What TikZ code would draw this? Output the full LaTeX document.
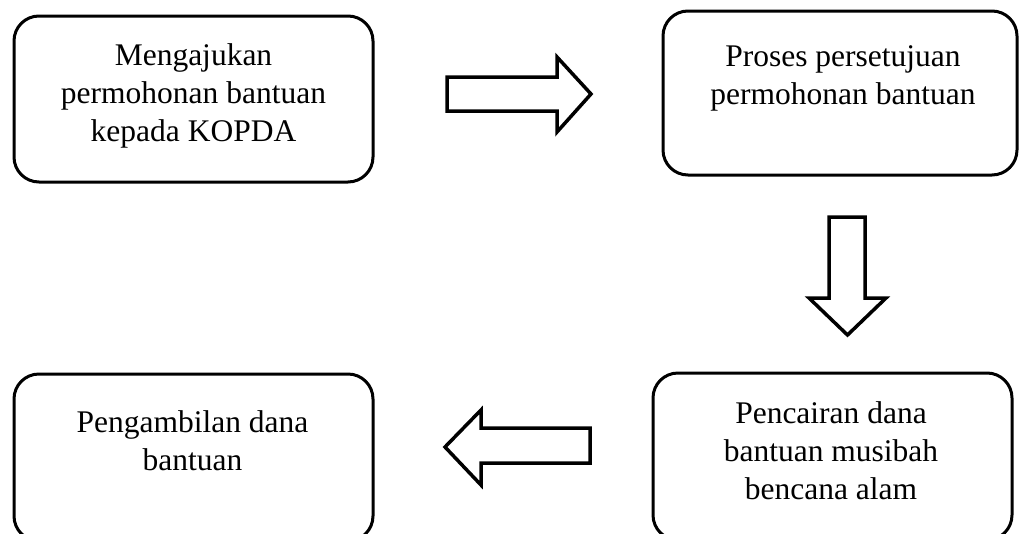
\documentclass[tikz,border=0pt]{standalone}
\usepackage{fontspec}
\setmainfont{Liberation Serif}
\begin{document}
\begin{tikzpicture}[x=1pt,y=-1pt,
  box/.style={draw=black, line width=3pt, rounded corners=25pt, inner sep=0pt, fill=white},
  txt/.style={align=center, inner sep=0pt, anchor=north, font=\fontsize{31.5}{38}\selectfont},
  blockarrow/.style={draw=black, line width=3.5pt, fill=white, line join=miter}]
\useasboundingbox (0,0) rectangle (1019,533);
\clip (0,0) rectangle (1019,533);
% boxes
\node[box, minimum width=359pt, minimum height=166pt] (b1) at (193.5,99) {};
\node[box, minimum width=354pt, minimum height=164pt] (b2) at (840,93) {};
\node[box, minimum width=359pt, minimum height=167pt] (b3) at (832.5,456.5) {};
\node[box, minimum width=359pt, minimum height=167pt] (b4) at (193.5,457.5) {};
% texts
\node[txt] (t1) at (193.5,43.5) {Mengajukan\\permohonan bantuan\\kepada KOPDA};
\node[txt] (t2) at (843,45.5) {Proses persetujuan\\permohonan bantuan};
\node[txt] (t3) at (831,401.5) {Pencairan dana\\bantuan musibah\\bencana alam};
\node[txt] (t4) at (192.5,410.5) {Pengambilan dana\\bantuan};
% block arrows
\draw[blockarrow] (447,77) -- (557,77) -- (557,57) -- (591,94) -- (557,132) -- (557,111) -- (447,111) -- cycle;
\draw[blockarrow] (829,217) -- (865,217) -- (865,298) -- (886,298) -- (847.5,335) -- (809,298) -- (829,298) -- cycle;
\draw[blockarrow] (590,428) -- (481,428) -- (481,410) -- (445,447) -- (481,485) -- (481,463) -- (590,463) -- cycle;
\end{tikzpicture}
\end{document}
